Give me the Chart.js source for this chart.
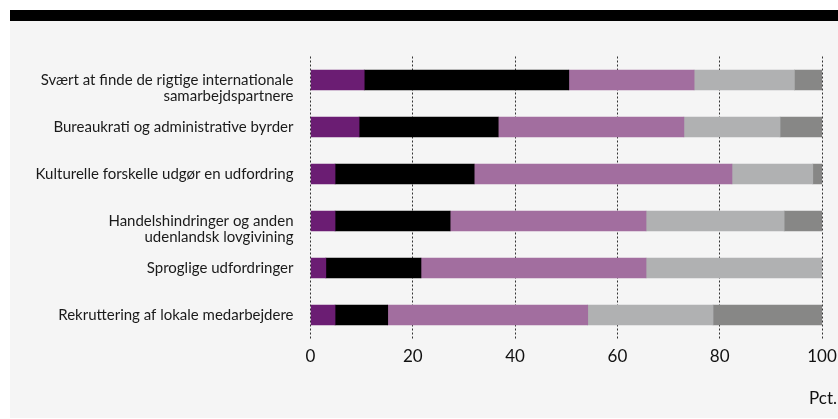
<!DOCTYPE html>
<html>
<head>
<meta charset="utf-8">
<script src="https://cdn.jsdelivr.net/npm/chart.js@4"></script>
<style>
  html, body { margin: 0; padding: 0; background: #fff; }
  #wrap { width: 838px; height: 419px; }
</style>
</head>
<body>
<div id="wrap"><canvas id="barChart" width="838" height="419"></canvas></div>
<script>
// categories (two-line labels get a leading blank line so line one sits on the bar)
const categories = [
  ['', 'Svært at finde de rigtige internationale', 'samarbejdspartnere'],
  'Bureaukrati og administrative byrder',
  'Kulturelle forskelle udgør en udfordring',
  ['', 'Handelshindringer og anden', 'udenlandsk lovgivining'],
  'Sproglige udfordringer',
  'Rekruttering af lokale medarbejdere'
];

// shares in pct.
const series1 = [10.5, 9.5, 4.8, 4.8, 3.0, 4.8];
const series2 = [40.0, 27.2, 27.2, 22.5, 18.6, 10.3];
const series3 = [24.5, 36.3, 50.4, 38.3, 44.0, 39.1];
const series4 = [19.6, 18.8, 15.8, 27.0, 34.4, 24.5];
const series5 = [5.4, 8.2, 1.8, 7.4, 0, 21.3];

const xTicks = [0, 20, 40, 60, 80, 100];
const unitLabel = 'Pct.';

const colors = ['#6b1d73', '#000000', '#a26e9f', '#b0b1b2', '#878786'];
const seriesNames = ['Serie 1', 'Serie 2', 'Serie 3', 'Serie 4', 'Serie 5'];
const allSeries = [series1, series2, series3, series4, series5];

const FONT = 'Lato, "Open Sans", sans-serif';

// background panel, black strip on top, unit label
const frame = {
  id: 'frame',
  beforeDraw(chart) {
    const c = chart.ctx;
    c.save();
    c.fillStyle = '#ffffff';
    c.fillRect(0, 0, chart.width, chart.height);
    c.fillStyle = '#f5f5f5';
    c.fillRect(10, 21, chart.width - 10, chart.height - 22);
    c.fillStyle = '#000000';
    c.fillRect(10, 10, chart.width - 10, 11);
    c.restore();
  },
  afterDraw(chart) {
    const c = chart.ctx;
    c.save();
    c.fillStyle = '#111';
    c.font = '17px ' + FONT;
    c.textAlign = 'right';
    c.textBaseline = 'alphabetic';
    c.fillText(unitLabel, 837, 404);
    c.restore();
  }
};

new Chart(document.getElementById('barChart').getContext('2d'), {
  type: 'bar',
  data: {
    labels: categories,
    datasets: allSeries.map((d, i) => ({
      label: seriesNames[i],
      data: d,
      backgroundColor: colors[i],
      borderWidth: 0,
      barThickness: 20
    }))
  },
  options: {
    indexAxis: 'y',
    responsive: false,
    animation: false,
    layout: { padding: { left: 0, top: 56.5, right: 16, bottom: 0 } },
    plugins: { legend: { display: false }, tooltip: { enabled: false } },
    scales: {
      x: {
        stacked: true,
        min: 0,
        max: 100,
        afterBuildTicks(scale) { scale.ticks = xTicks.map(v => ({ value: v })); },
        afterFit(scale) {
          scale.height = 80.5;
          scale.paddingLeft = 0;
          scale.paddingRight = 0;
        },
        grid: { color: '#333', lineWidth: 1, drawTicks: false },
        border: { display: false, dash: [2, 2] },
        ticks: { color: '#111', padding: 8, font: { family: FONT, size: 17 } }
      },
      y: {
        stacked: true,
        afterFit(scale) { scale.width = 310.5; },
        grid: { display: false, drawTicks: false },
        border: { display: false },
        ticks: { color: '#1a1a1a', padding: 17, autoSkip: false, font: { family: FONT, size: 15, lineHeight: 1.05 } }
      }
    }
  },
  plugins: [frame]
});
</script>
</body>
</html>
